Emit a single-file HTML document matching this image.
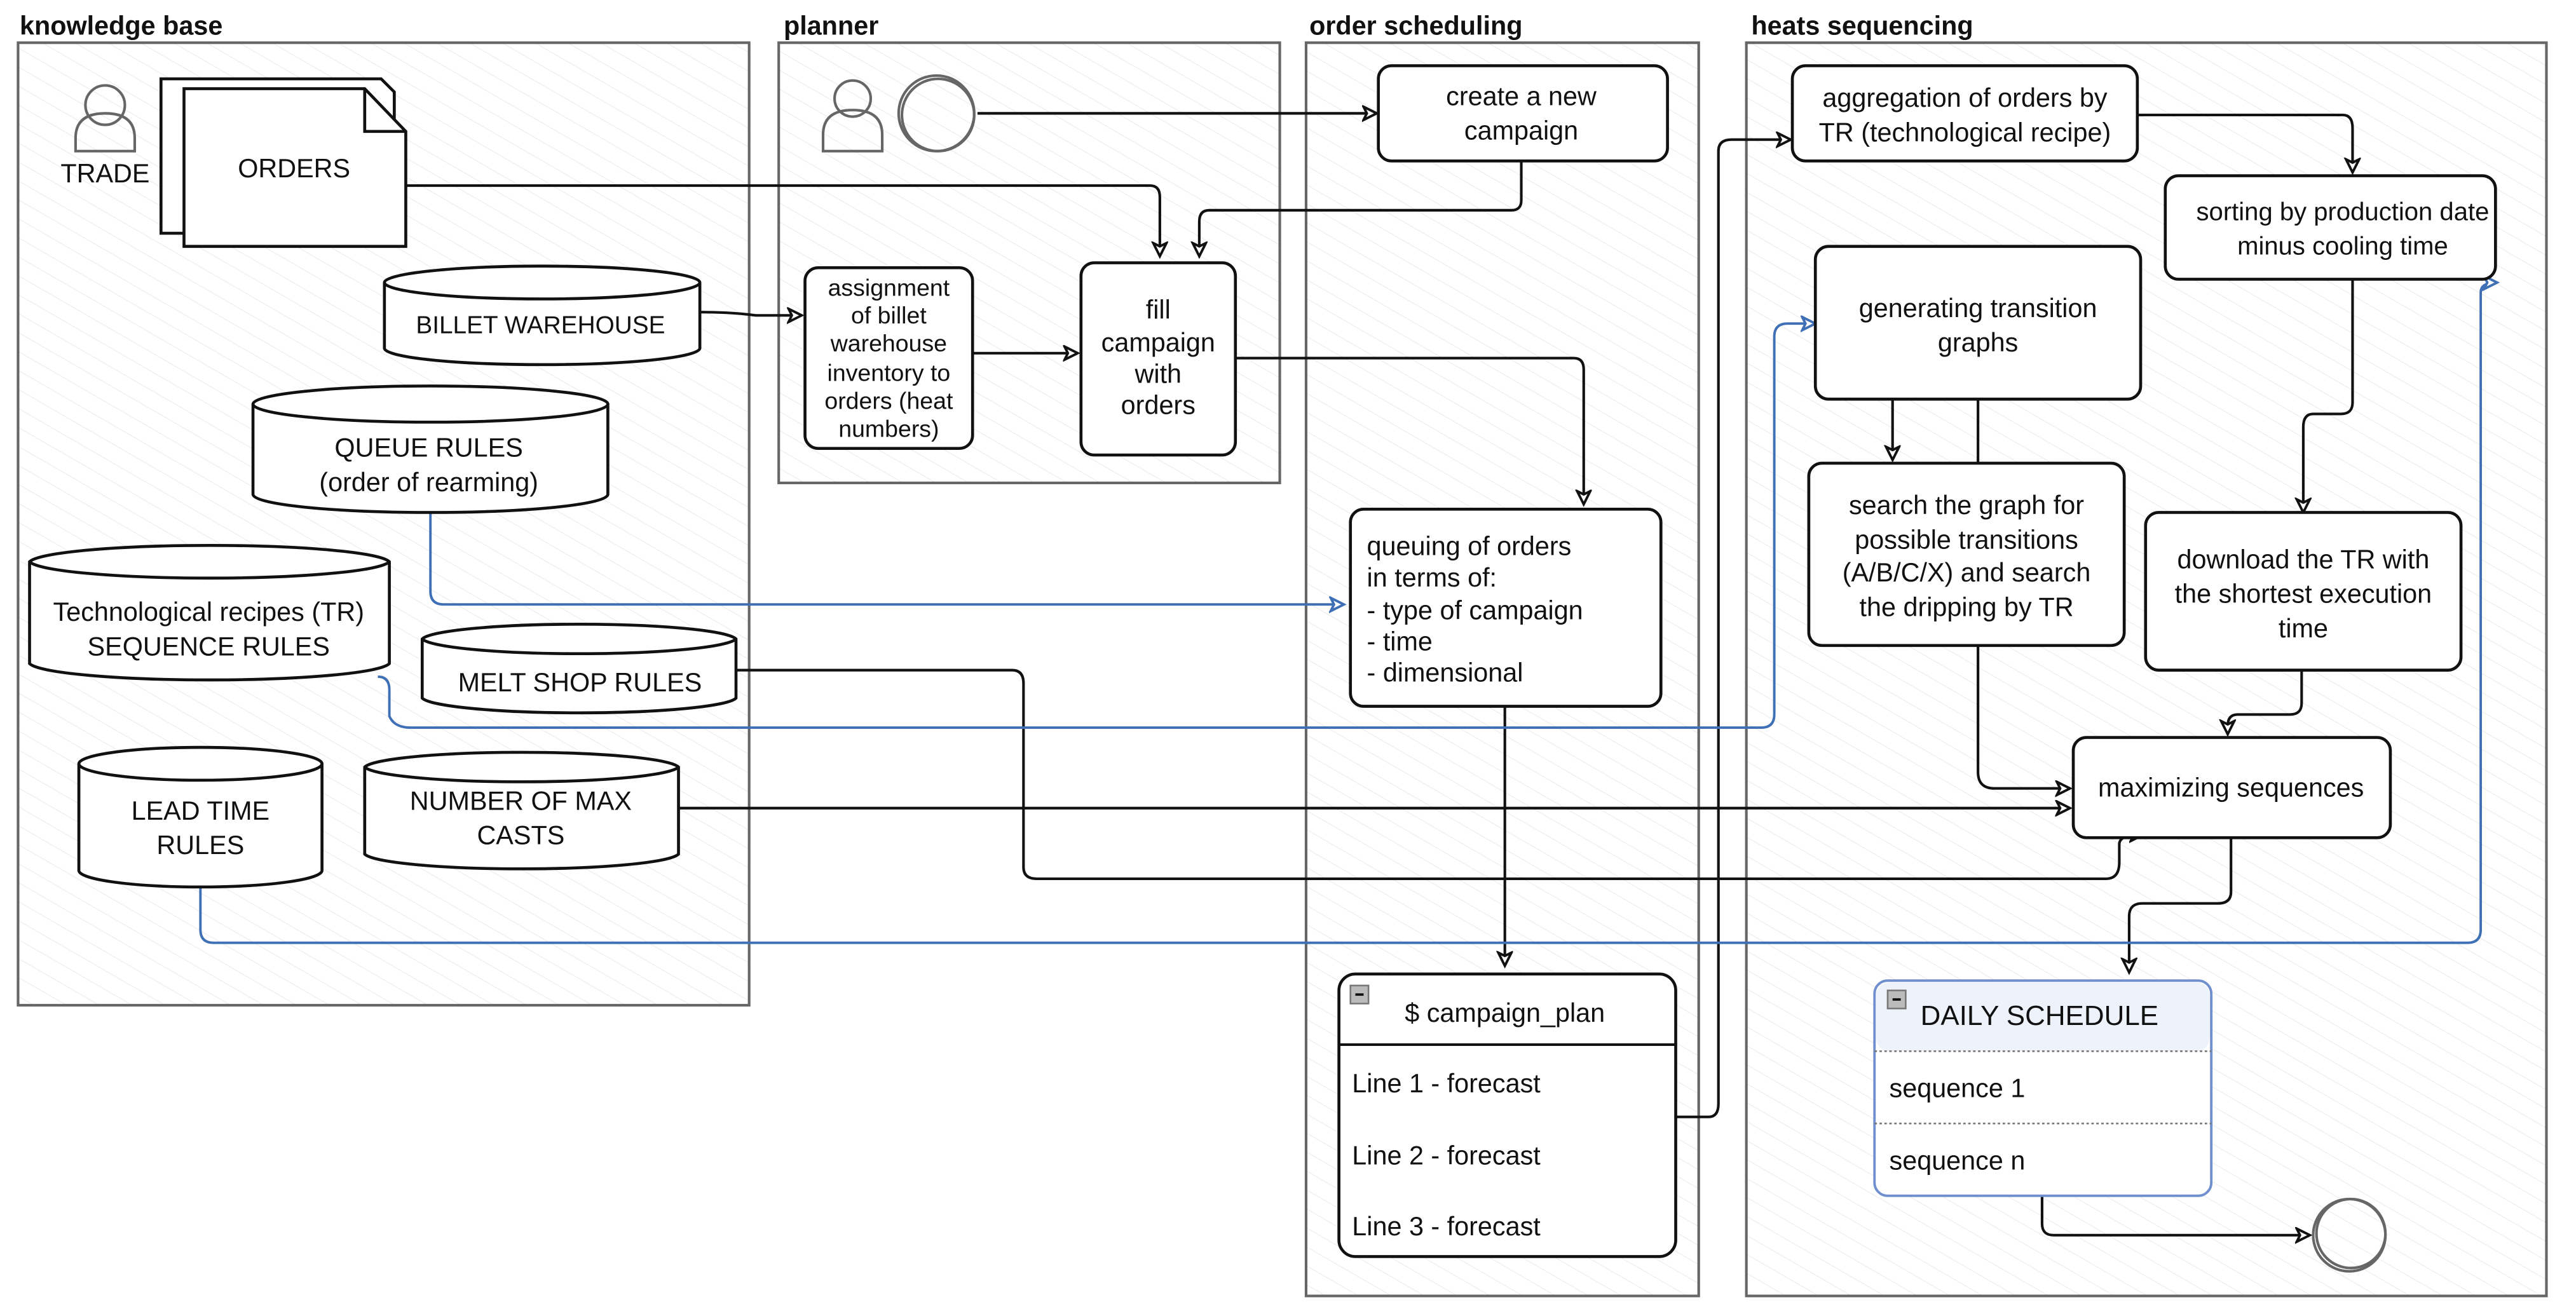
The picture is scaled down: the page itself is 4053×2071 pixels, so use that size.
<!DOCTYPE html>
<html><head><meta charset="utf-8"><style>
html,body{margin:0;padding:0;background:#fff}
svg{display:block}
text{font-family:"Liberation Sans",sans-serif;fill:#111}
</style></head><body>
<svg width="4053" height="2071" viewBox="0 0 1568 801.2" xmlns="http://www.w3.org/2000/svg">
<defs>
<marker id="a" markerWidth="12" markerHeight="12" refX="9" refY="5" orient="auto" markerUnits="userSpaceOnUse"><path d="M1,1 L9,5 L1,9 L3,5 Z" fill="#fff" stroke="#111" stroke-width="1.5"/></marker>
<marker id="b" markerWidth="12" markerHeight="12" refX="9" refY="5" orient="auto" markerUnits="userSpaceOnUse"><path d="M1,1 L9,5 L1,9 L3,5 Z" fill="#fff" stroke="#3f6fb5" stroke-width="1.5"/></marker>
<pattern id="h" width="10" height="10" patternUnits="userSpaceOnUse" patternTransform="rotate(-60)"><line x1="0" y1="0" x2="0" y2="10" stroke="#eee" stroke-width="1"/></pattern>
</defs>
<g font-weight="bold" font-size="16">
<text x="12" y="21" fill="#333">knowledge base</text>
<text x="477" y="21" fill="#333">planner</text>
<text x="797" y="21" fill="#333">order scheduling</text>
<text x="1066" y="21" fill="#333">heats sequencing</text>
</g>
<g fill="url(#h)" stroke="#666" stroke-width="1.6">
<rect x="11" y="26" width="445" height="586"/>
<rect x="474" y="26" width="305" height="268"/>
<rect x="795" y="26" width="239" height="763"/>
<rect x="1063" y="26" width="487" height="763"/>
</g>
<g fill="none" stroke="#111" stroke-width="1.6">
<path d="M595,69 H838" marker-end="url(#a)"/>
<path d="M247,113 H700 Q706,113 706,120 V156" marker-end="url(#a)"/>
<path d="M926,98 V122 Q926,128 920,128 H736 Q730,128 730,135 V156" marker-end="url(#a)"/>
<path d="M426,190 Q445,190 460,192 H488" marker-end="url(#a)"/>
<path d="M592,215 H656" marker-end="url(#a)"/>
<path d="M752,218 H958 Q964,218 964,225 V307" marker-end="url(#a)"/>
<path d="M916,430 V588" marker-end="url(#a)"/>
<path d="M1020,680 H1040 Q1046,680 1046,672 V92 Q1046,85 1054,85 H1090" marker-end="url(#a)"/>
<path d="M1301,70 H1426 Q1432,70 1432,78 V105" marker-end="url(#a)"/>
<path d="M1432,170 V245 Q1432,252 1425,252 H1408 Q1402,252 1402,260 V312" marker-end="url(#a)"/>
<path d="M1401,408 V428 Q1401,435 1394,435 H1362 Q1356,435 1356,442 V447" marker-end="url(#a)"/>
<path d="M1152,243 V280" marker-end="url(#a)"/>
<path d="M1204,243 V470 Q1204,480 1214,480 H1260" marker-end="url(#a)"/>
<path d="M1358,510 V543 Q1358,550 1350,550 H1304 Q1296,550 1296,558 V592" marker-end="url(#a)"/>
<path d="M1243,728 V745 Q1243,752 1250,752 H1406" marker-end="url(#a)"/>
<path d="M448,408 H616 Q623,408 623,416 V528 Q623,535 631,535 H1282 Q1290,535 1290,525 V514 Q1290,508 1305,508" marker-end="url(#a)"/>
<path d="M413,492 H1260" marker-end="url(#a)"/>
</g>
<g fill="none" stroke="#3f6fb5" stroke-width="1.5">
<path d="M262,312 V360 Q262,368 270,368 H818" marker-end="url(#b)"/>
<path d="M230,412 Q237,412 237,420 V436 Q240,443 250,443 H1072 Q1080,443 1080,435 V205 Q1080,197 1088,197 H1105" marker-end="url(#b)"/>
<path d="M122,540 V566 Q122,574 130,574 H1502 Q1510,574 1510,566 V178 Q1510,172 1520,172" marker-end="url(#b)"/>
</g>
<g fill="none" stroke="#666" stroke-width="1.6">
<circle cx="64" cy="64" r="12"/>
<path d="M46,92 V84 Q46,69 64,69 Q82,69 82,84 V92 Z"/>
</g>
<text x="64" y="111" font-size="16" text-anchor="middle">TRADE</text>
<g stroke="#111" stroke-width="1.8" fill="#fff">
<path d="M98,48 H232 L240,56 V142 H98 Z"/>
<path d="M112,54 H222 L247,80 V150 H112 Z"/>
<path d="M222,54 V80 H247" fill="none"/>
</g>
<text x="179" y="108" font-size="16" text-anchor="middle">ORDERS</text>
<g stroke="#111" stroke-width="1.8" fill="#fff">
<path d="M234,172 A96,10 0 0 1 426,172 V212 A96,10 0 0 1 234,212 Z"/><path d="M234,172 A96,10 0 0 0 426,172" fill="none"/>
<path d="M154,246 A108,11 0 0 1 370,246 V301 A108,11 0 0 1 154,301 Z"/><path d="M154,246 A108,11 0 0 0 370,246" fill="none"/>
<path d="M18,342 A110,11 0 0 1 237,342 V404 A110,11 0 0 1 18,404 Z"/><path d="M18,342 A110,11 0 0 0 237,342" fill="none"/>
<path d="M257,389 A96,10 0 0 1 448,389 V425 A96,10 0 0 1 257,425 Z"/><path d="M257,389 A96,10 0 0 0 448,389" fill="none"/>
<path d="M48,465 A74,10 0 0 1 196,465 V530 A74,10 0 0 1 48,530 Z"/><path d="M48,465 A74,10 0 0 0 196,465" fill="none"/>
<path d="M222,467 A96,10 0 0 1 413,467 V520 A96,10 0 0 1 222,520 Z"/><path d="M222,467 A96,10 0 0 0 413,467" fill="none"/>
</g>
<g font-size="16" text-anchor="middle">
<text x="329" y="203" font-size="15">BILLET WAREHOUSE</text>
<text x="261" y="278">QUEUE RULES</text><text x="261" y="299">(order of rearming)</text>
<text x="127" y="378">Technological recipes (TR)</text><text x="127" y="399">SEQUENCE  RULES</text>
<text x="353" y="421">MELT SHOP RULES</text>
<text x="122" y="499">LEAD TIME</text><text x="122" y="520">RULES</text>
<text x="317" y="493">NUMBER OF MAX</text><text x="317" y="514">CASTS</text>
</g>
<g fill="none" stroke="#666" stroke-width="1.6">
<circle cx="519" cy="60" r="11"/>
<path d="M501,92 V82 Q501,67 519,67 Q537,67 537,82 V92 Z"/>
<circle cx="570" cy="69" r="23"/><circle cx="571" cy="70" r="22"/>
</g>
<g stroke="#111" stroke-width="1.8" fill="#fff">
<rect x="490" y="163" width="102" height="110" rx="8"/>
<rect x="658" y="160" width="94" height="117" rx="8"/>
<rect x="839" y="40" width="176" height="58" rx="8"/>
<rect x="822" y="310" width="189" height="120" rx="8"/>
<rect x="1091" y="40" width="210" height="58" rx="8"/>
<rect x="1318" y="107" width="201" height="63" rx="8"/>
<rect x="1105" y="150" width="198" height="93" rx="8"/>
<rect x="1101" y="282" width="192" height="111" rx="8"/>
<rect x="1306" y="312" width="192" height="96" rx="8"/>
<rect x="1262" y="449" width="193" height="61" rx="8"/>
</g>
<g font-size="14.5" text-anchor="middle">
<text x="541" y="180">assignment</text><text x="541" y="197">of billet</text><text x="541" y="214">warehouse</text><text x="541" y="232">inventory to</text><text x="541" y="249">orders (heat</text><text x="541" y="266">numbers)</text>
</g>
<g font-size="16" text-anchor="middle">
<text x="705" y="194">fill</text><text x="705" y="214">campaign</text><text x="705" y="233">with</text><text x="705" y="252">orders</text>
<text x="926" y="64">create a new</text><text x="926" y="85">campaign</text>
<text x="1196" y="65">aggregation of orders by</text><text x="1196" y="86">TR (technological recipe)</text>
<text x="1426" y="134" font-size="15.5">sorting by production date</text><text x="1426" y="155" font-size="15.5">minus cooling time</text>
<text x="1204" y="193">generating transition</text><text x="1204" y="214">graphs</text>
<text x="1197" y="313">search the graph for</text><text x="1197" y="334">possible transitions</text><text x="1197" y="354">(A/B/C/X) and search</text><text x="1197" y="375">the dripping by TR</text>
<text x="1402" y="346">download the TR with</text><text x="1402" y="367">the shortest execution</text><text x="1402" y="388">time</text>
<text x="1358" y="485">maximizing sequences</text>
</g>
<g font-size="16">
<text x="832" y="338">queuing of orders</text><text x="832" y="357">in terms of:</text><text x="832" y="377">- type of campaign</text><text x="832" y="396">- time</text><text x="832" y="415">- dimensional</text>
</g>
<rect x="815" y="593" width="205" height="172" rx="10" fill="#fff" stroke="#111" stroke-width="1.8"/>
<line x1="815" y1="636" x2="1020" y2="636" stroke="#111" stroke-width="1.6"/>
<rect x="822" y="600" width="11" height="11" fill="#bbb" stroke="#777"/><line x1="825" y1="605.5" x2="830" y2="605.5" stroke="#111" stroke-width="1.5"/>
<text x="916" y="622" font-size="16" text-anchor="middle">$ campaign_plan</text>
<g font-size="16"><text x="823" y="665">Line 1 - forecast</text><text x="823" y="709">Line 2 - forecast</text><text x="823" y="752">Line 3 - forecast</text></g>
<rect x="1141" y="597" width="205" height="131" rx="8" fill="#fff" stroke="#6f8fcf" stroke-width="1.5"/>
<rect x="1142" y="598" width="203" height="42" rx="8" fill="#eef2fb"/>
<g stroke="#777" stroke-dasharray="1.5,1.5" fill="none"><line x1="1141" y1="640" x2="1346" y2="640"/><line x1="1141" y1="684" x2="1346" y2="684"/></g>
<rect x="1149" y="603" width="11" height="11" fill="#bbb" stroke="#777"/><line x1="1152" y1="608.5" x2="1157" y2="608.5" stroke="#111" stroke-width="1.5"/>
<text x="1169" y="624" font-size="17">DAILY SCHEDULE</text>
<g font-size="16" fill="#333"><text x="1150" y="668">sequence 1</text><text x="1150" y="712">sequence n</text></g>
<g fill="none" stroke="#666" stroke-width="1.6"><circle cx="1430" cy="752" r="22"/><circle cx="1431" cy="751" r="21"/></g>
</svg>
</body></html>
